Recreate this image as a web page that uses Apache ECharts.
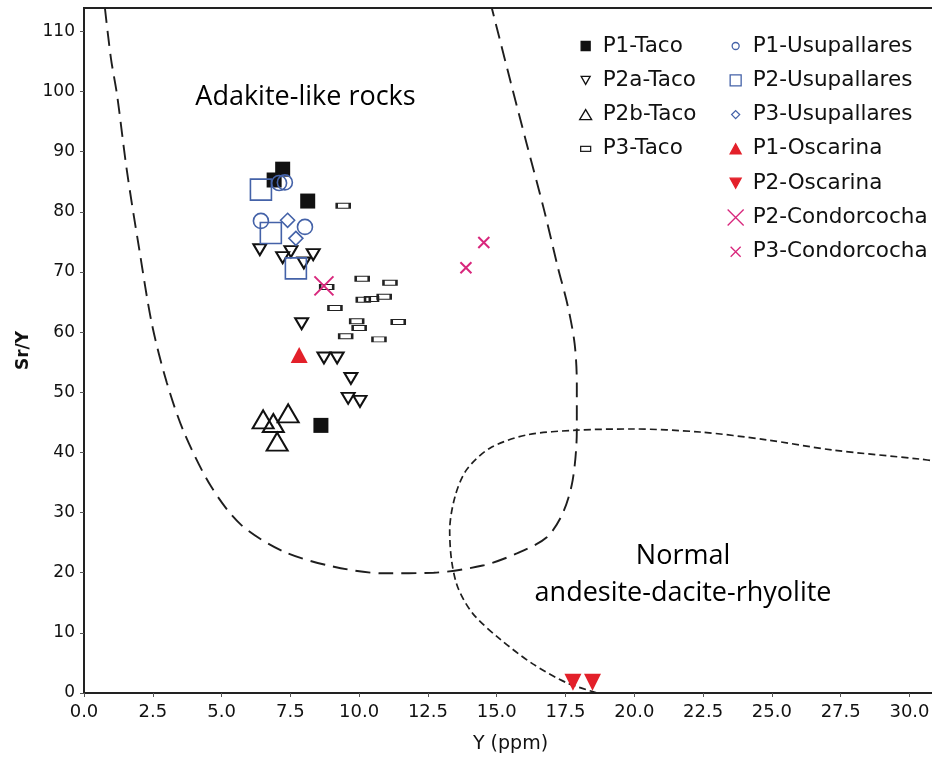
<!DOCTYPE html>
<html>
<head>
<meta charset="utf-8">
<script src="https://cdn.jsdelivr.net/npm/echarts@6/dist/echarts.min.js"></script>
<style>
html,body{margin:0;padding:0;background:#ffffff;}
#chart{width:932px;height:758px;}
</style>
</head>
<body>
<div id="chart"></div>
<script>
// ---------------- DATA ----------------
const X_TICKS = [0, 2.5, 5, 7.5, 10, 12.5, 15, 17.5, 20, 22.5, 25, 27.5, 30];
const Y_TICKS = [0, 10, 20, 30, 40, 50, 60, 70, 80, 90, 100, 110];
const X_RANGE = [0, 31];
const Y_RANGE = [0, 113.9];

const P1_TACO = [[7.22, 87.1], [6.91, 85.3], [8.13, 81.8], [8.61, 44.5]];
const P2A_TACO = [[6.39, 73.7], [7.22, 72.4], [7.52, 73.4], [7.99, 71.5], [8.33, 72.9],
  [7.91, 61.4], [8.72, 55.7], [9.20, 55.7], [9.70, 52.3], [9.60, 49.0], [10.03, 48.5]];
const P2B_TACO = [[6.51, 45.5], [6.88, 44.9], [7.42, 46.5], [7.02, 41.8]];
const P3_TACO = [[9.42, 81.0], [10.11, 68.9], [11.12, 68.2], [8.82, 67.5], [10.15, 65.4],
  [10.45, 65.5], [10.91, 65.9], [9.12, 64.0], [9.91, 61.8], [11.42, 61.7], [10.00, 60.7],
  [9.51, 59.3], [10.72, 58.8]];
const P1_USUPALLARES = [[7.09, 84.8], [7.30, 84.9], [6.43, 78.5], [8.03, 77.5]];
const P2_USUPALLARES = [[6.43, 83.7], [6.79, 76.5], [7.70, 70.6]];
const P3_USUPALLARES = [[7.40, 78.6], [7.70, 75.6]];
const P1_OSCARINA = [[7.82, 56.2]];
const P2_OSCARINA = [[17.77, 1.8], [18.48, 1.8]];
const P2_CONDORCOCHA = [[8.72, 67.7]];
const P3_CONDORCOCHA = [[13.88, 70.7], [14.53, 74.9]];

const ADAKITE_BOUNDARY = [[0.76, 113.9], [0.98, 105.5], [1.20, 99.5], [1.56, 86.8], [2.00, 74.0],
  [2.47, 61.3], [3.01, 51.6], [3.63, 43.4], [4.61, 34.4], [5.70, 28.0], [7.26, 23.5],
  [9.08, 21.0], [10.90, 19.9], [12.71, 20.0], [14.49, 21.2], [15.73, 23.2], [16.82, 25.9],
  [17.40, 29.9], [17.76, 35.4], [17.91, 43.7], [17.91, 51.6], [17.83, 58.1], [17.58, 64.4],
  [17.22, 70.8], [16.71, 80.5], [16.09, 91.3], [15.51, 101.5], [14.82, 113.9]];
const NORMAL_BOUNDARY = [[18.62, 0.05], [17.53, 1.72], [16.31, 4.84], [15.11, 9.0], [14.13, 13.2],
  [13.59, 17.5], [13.36, 22.0], [13.29, 27.0], [13.48, 32.6], [13.90, 37.1], [14.75, 40.7],
  [16.08, 42.9], [17.90, 43.7], [19.94, 43.9], [22.38, 43.4], [24.80, 42.1], [27.21, 40.4],
  [30.37, 38.9], [31.0, 38.5]];

const FIELD_LABELS = [
  { name: 'Adakite-like rocks', value: [8.05, 99.0] },
  { name: 'Normal', value: [21.77, 22.8] },
  { name: 'andesite-dacite-rhyolite', value: [21.77, 16.6] }
];

const LEGEND_LEFT = ['P1-Taco', 'P2a-Taco', 'P2b-Taco', 'P3-Taco'];
const LEGEND_RIGHT = ['P1-Usupallares', 'P2-Usupallares', 'P3-Usupallares', 'P1-Oscarina',
  'P2-Oscarina', 'P2-Condorcocha', 'P3-Condorcocha'];

// ---------------- STYLE ----------------
const BLACK = '#111111';
const BLUE = '#4462a8';
const RED = '#e3202a';
const PINK = '#d8277c';
const NONE = 'rgba(0,0,0,0)';
const TEXT = '#111111';
const DOWN_TRI = 'path://M0,0 L10,0 L5,10 Z';
const XMARK = 'path://M0,0 L10,10 M10,0 L0,10';
const PAD = 'path://M0,0 M16,16 ';
const ICONS = {
  'P1-Taco': PAD + 'M3.5,3.5 L12.5,3.5 L12.5,12.5 L3.5,12.5 Z',
  'P2a-Taco': PAD + 'M3.5,4 L12.5,4 L8,12 Z',
  'P2b-Taco': PAD + 'M2,13 L14,13 L8,3 Z',
  'P3-Taco': PAD + 'M3,5.5 L13,5.5 L13,10.5 L3,10.5 Z',
  'P1-Usupallares': PAD + 'M4.5,8 A3.5,3.5 0 1 1 11.5,8 A3.5,3.5 0 1 1 4.5,8 Z',
  'P2-Usupallares': PAD + 'M2.5,2.5 L13.5,2.5 L13.5,13.5 L2.5,13.5 Z',
  'P3-Usupallares': PAD + 'M8,4 L12,8 L8,12 L4,8 Z',
  'P1-Oscarina': PAD + 'M2.5,13 L13.5,13 L8,3 Z',
  'P2-Oscarina': PAD + 'M2.5,3 L13.5,3 L8,13 Z',
  'P2-Condorcocha': 'path://M0,0 L16,16 M16,0 L0,16',
  'P3-Condorcocha': PAD + 'M3,3 L13,13 M13,3 L3,13'
};

function scatter(name, data, symbol, size, fill, stroke, bw) {
  return {
    type: 'scatter', name: name, data: data, symbol: symbol, symbolSize: size,
    itemStyle: { color: fill, borderColor: stroke, borderWidth: bw, opacity: 1 },
    emphasis: { disabled: true }, silent: true, z: 3
  };
}
function boundary(name, data, dash, width) {
  return {
    type: 'line', name: name, data: data, showSymbol: false, symbol: 'none',
    smooth: 0.3, silent: true, z: 2,
    lineStyle: { color: '#1e1e1e', width: width, type: dash }
  };
}
function legend(names, left) {
  return {
    orient: 'vertical', left: left, top: 30, itemWidth: 16, itemHeight: 16, itemGap: 12.3,
    selectedMode: false,
    itemStyle: { borderWidth: 1.3 },
    textStyle: { fontFamily: 'DejaVu Sans', fontSize: 21.5, lineHeight: 22, color: TEXT, padding: [0, 0, 0, 4] },
    data: names.map(n => ({ name: n, icon: ICONS[n] }))
  };
}

const chart = echarts.init(document.getElementById('chart'), null, { renderer: 'canvas' });
chart.setOption({
  animation: false,
  backgroundColor: '#ffffff',
  grid: { left: 84, top: 8, right: -5, bottom: 65, show: true, borderColor: '#222', borderWidth: 2,
    backgroundColor: 'transparent', outerBoundsMode: 'none' },
  xAxis: {
    type: 'value', min: X_RANGE[0], max: X_RANGE[1],
    name: 'Y (ppm)', nameLocation: 'middle', nameGap: 42,
    nameTextStyle: { fontFamily: 'DejaVu Sans', fontSize: 19, color: TEXT },
    axisLine: { show: true, onZero: false, lineStyle: { color: '#222', width: 2 } },
    axisTick: { show: true, length: 4, customValues: X_TICKS, lineStyle: { color: '#555', width: 1 } },
    axisLabel: { customValues: X_TICKS, margin: 10, fontFamily: 'DejaVu Sans', fontSize: 18, color: TEXT,
      formatter: v => v.toFixed(1) },
    splitLine: { show: false }
  },
  yAxis: {
    type: 'value', min: Y_RANGE[0], max: Y_RANGE[1],
    name: 'Sr/Y', nameLocation: 'middle', nameGap: 52, nameRotate: 90,
    nameTextStyle: { fontFamily: 'DejaVu Sans', fontSize: 17, fontWeight: 'bold', color: TEXT },
    axisLine: { show: true, onZero: false, lineStyle: { color: '#222', width: 2 } },
    axisTick: { show: true, length: 4, customValues: Y_TICKS, lineStyle: { color: '#555', width: 1 } },
    axisLabel: { customValues: Y_TICKS, margin: 9, fontFamily: 'DejaVu Sans', fontSize: 17, color: TEXT },
    splitLine: { show: false }
  },
  legend: [legend(LEGEND_LEFT, 572), legend(LEGEND_RIGHT, 722)],
  series: [
    boundary('adakite-boundary', ADAKITE_BOUNDARY, [15, 8], 1.9),
    boundary('normal-boundary', NORMAL_BOUNDARY, [7, 4], 1.7),
    {
      type: 'scatter', name: 'field-labels', data: FIELD_LABELS, symbolSize: 1, silent: true,
      itemStyle: { color: NONE, opacity: 1 },
      label: { show: true, position: 'inside', formatter: '{b}', fontFamily: 'Open Sans',
        fontSize: 27, color: '#000000', opacity: 1, textBorderWidth: 0, textBorderColor: 'transparent' }
    },
    scatter('P1-Taco', P1_TACO, 'rect', 15, BLACK, BLACK, 0),
    scatter('P2a-Taco', P2A_TACO, DOWN_TRI, [13, 11], NONE, BLACK, 2),
    scatter('P2b-Taco', P2B_TACO, 'triangle', [21, 18], NONE, BLACK, 2),
    scatter('P3-Taco', P3_TACO, 'rect', [13, 5], NONE, '#222', 1.6),
    scatter('P1-Usupallares', P1_USUPALLARES, 'circle', 15, NONE, BLUE, 1.6),
    scatter('P2-Usupallares', P2_USUPALLARES, 'rect', 21, NONE, BLUE, 1.6),
    scatter('P3-Usupallares', P3_USUPALLARES, 'diamond', 14, NONE, BLUE, 1.6),
    scatter('P1-Oscarina', P1_OSCARINA, 'triangle', [17, 16], RED, RED, 0),
    scatter('P2-Oscarina', P2_OSCARINA, DOWN_TRI, [17, 17], RED, RED, 0),
    scatter('P2-Condorcocha', P2_CONDORCOCHA, XMARK, 19, NONE, PINK, 2),
    scatter('P3-Condorcocha', P3_CONDORCOCHA, XMARK, 11, NONE, PINK, 2)
  ]
});
</script>
</body>
</html>
